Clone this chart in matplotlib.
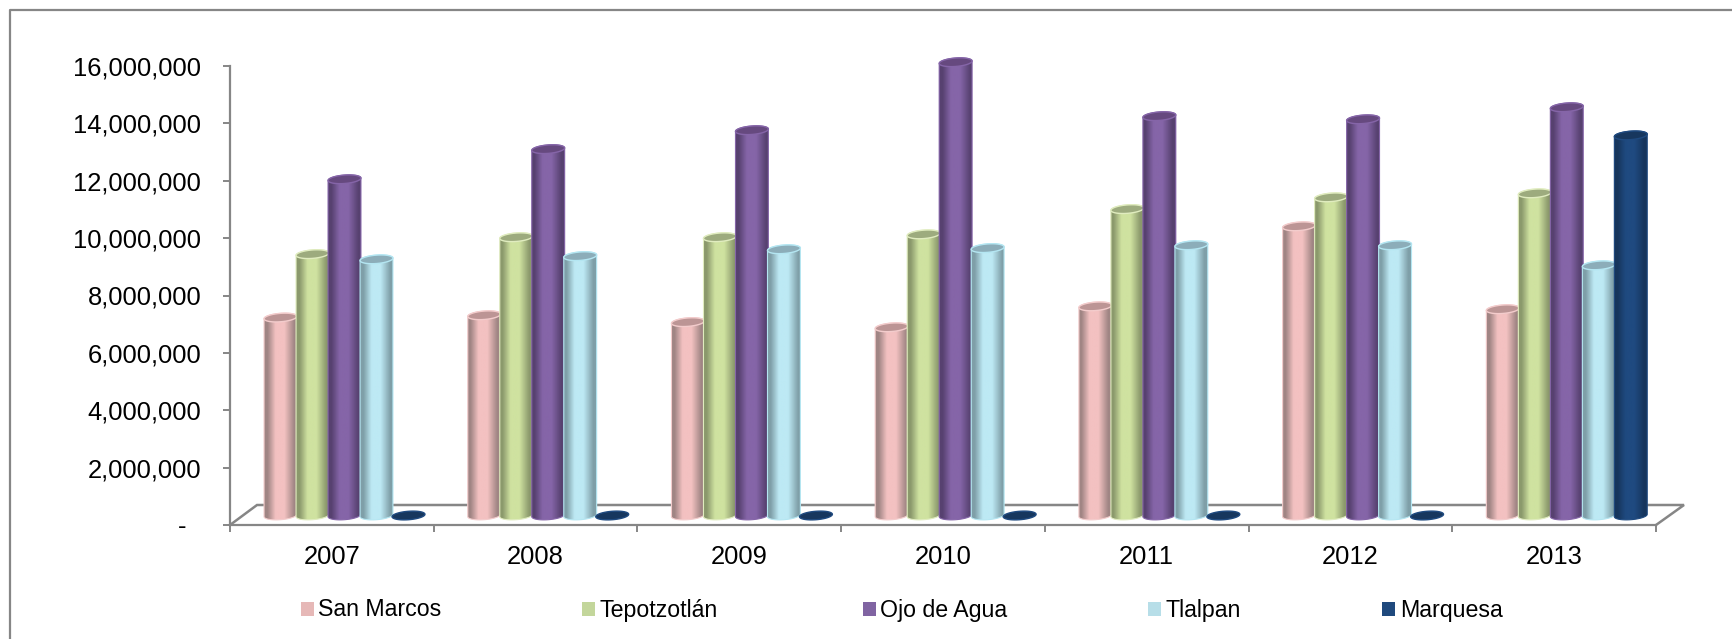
import numpy as np
import matplotlib
matplotlib.use('Agg')
import matplotlib.pyplot as plt
from matplotlib.colors import LinearSegmentedColormap
from matplotlib.lines import Line2D
from matplotlib.patches import Polygon, Rectangle
from matplotlib.transforms import ScaledTranslation

years = ['2007', '2008', '2009', '2010', '2011', '2012', '2013']
san_marcos = [6900000, 6980000, 6740000, 6560000, 7290000, 10080000, 7190000]
tepotzotlan = [9110000, 9700000, 9700000, 9800000, 10680000, 11090000, 11230000]
ojo_de_agua = [11720000, 12770000, 13430000, 15800000, 13920000, 13810000, 14230000]
tlalpan = [8930000, 9040000, 9280000, 9320000, 9420000, 9420000, 8720000]
marquesa = [0, 0, 0, 0, 0, 0, 13250000]
y_ticks = [0, 2000000, 4000000, 6000000, 8000000, 10000000, 12000000, 14000000, 16000000]
y_labels = ['-', '2,000,000', '4,000,000', '6,000,000', '8,000,000',
            '10,000,000', '12,000,000', '14,000,000', '16,000,000']
names = ['San Marcos', 'Tepotzotlán', 'Ojo de Agua', 'Tlalpan', 'Marquesa']
series = [san_marcos, tepotzotlan, ojo_de_agua, tlalpan, marquesa]

# (edge, middle, top face, rim)
colors = [('#a08584', '#f3c1c1', '#bc9595', '#f3cccc'),
          ('#8b996c', '#cfe2a0', '#9dab7e', '#e0ecbf'),
          ('#574170', '#8565a8', '#66497f', '#8565a8'),
          ('#7f9fa8', '#bde9f4', '#8cadb9', '#b4e6f2'),
          ('#16355c', '#1f4a80', '#17375e', '#1f4a80')]
legend_colors = ['#e6b8b7', '#c3d69b', '#8064a2', '#b7dee8', '#1f497d']
legend_x = [301, 582, 863, 1148, 1382]
legend_text_x = [318, 600, 880, 1166, 1400]

W, H = 1733, 639
grey = '#868686'
plt.rcParams['font.family'] = ['Liberation Sans', 'DejaVu Sans']

fig = plt.figure(figsize=(W / 100, H / 100), dpi=100)
ax = fig.add_axes([230 / W, (H - 525) / H, 1426 / W, 459 / H])
ax.patch.set_alpha(0)

px_x = 7 / 1426
px_y = 16000000 / 459
lift = 9.5 * px_y      # bars stand on the floor, a bit above the front axis
semi_a, semi_b = 16.5, 4.2
tilt = np.radians(4.5)
step = 32 * px_x
first = 50.5 * px_x


def ring(cx, cy, t):
    dx = semi_a * np.cos(t) * np.cos(tilt) - semi_b * np.sin(t) * np.sin(tilt)
    dy = semi_a * np.cos(t) * np.sin(tilt) + semi_b * np.sin(t) * np.cos(tilt)
    return np.column_stack([cx + dx * px_x, cy + dy * px_y])


def draw_bar(cx, value, cols, z):
    edge, mid, top, rim = cols
    y0 = lift
    y1 = lift + value
    face = LinearSegmentedColormap.from_list('f', [(0, edge), (0.12, edge), (0.35, mid),
                                                   (0.6, mid), (0.88, edge), (1, edge)])
    if value > 0:
        body = np.vstack([ring(cx, y0, np.linspace(np.pi, 2 * np.pi, 40)),
                          ring(cx, y1, np.linspace(0, np.pi, 40))])
        ax.bar(cx, value, bottom=y0, width=2 * semi_a * px_x, color=mid, zorder=z, clip_on=False)
        shape = Polygon(body, closed=True, transform=ax.transData, fc='none',
                        ec=rim, lw=0.8, zorder=z + 0.2, clip_on=False)
        ax.add_patch(shape)
        grad = np.linspace(0, 1, 64).reshape(1, -1)
        im = ax.imshow(grad, cmap=face, aspect='auto', zorder=z + 0.1,
                       extent=[cx - 18 * px_x, cx + 18 * px_x, y0 - 8 * px_y, y1 + 8 * px_y])
        im.set_clip_box(fig.bbox)
        im.set_clip_path(shape)
    cap = Polygon(ring(cx, y1, np.linspace(0, 2 * np.pi, 60)), closed=True, fc=top,
                  ec=rim, lw=1.0, zorder=z + 0.3, clip_on=False)
    ax.add_patch(cap)


for s, values in enumerate(series):
    for i, v in enumerate(values):
        draw_bar(i + first + s * step, v, colors[s], 3 + s)

ax.set_xlim(0, 7)
ax.set_ylim(0, 16000000)

# floor of the 3d box
floor_x = [0, 27 * px_x, 7 + 28 * px_x, 7]
floor_y = [0, 20 * px_y, 20 * px_y, 0]
ax.plot(floor_x, floor_y, color=grey, lw=1.8, zorder=1, clip_on=False, solid_joinstyle='miter')

for side in ['top', 'right']:
    ax.spines[side].set_visible(False)
for side in ['left', 'bottom']:
    ax.spines[side].set_color(grey)
    ax.spines[side].set_linewidth(1.6)

ax.set_yticks(y_ticks)
ax.set_yticklabels(y_labels, fontsize=18.4, color='black')
ax.tick_params(axis='y', length=5, width=1.4, color=grey, pad=15.7)
ax.set_xticks(range(8))
ax.set_xticklabels([])
ax.tick_params(axis='x', which='major', length=5, width=1.4, color=grey)
ax.set_xticks(np.arange(7) + 0.5, minor=True)
ax.set_xticklabels(years, minor=True, fontsize=18.4, color='black')
ax.tick_params(axis='x', which='minor', length=0, pad=14.7)

zero_label = ax.get_yticklabels()[0]
zero_label.set_transform(zero_label.get_transform() + ScaledTranslation(-0.15, 0, fig.dpi_scale_trans))

# legend
for name, col, lx, tx in zip(names, legend_colors, legend_x, legend_text_x):
    fig.add_artist(Rectangle((lx / W, (H - 615.5) / H), 13.5 / W, 13.5 / H, transform=fig.transFigure,
                             fc=col, ec='none'))
    fig.text(tx / W, (H - 610) / H, name, fontsize=16.7, color='black', va='center', ha='left')

# chart frame, open to the right and bottom
fig.add_artist(Line2D([10.5 / W, 10.5 / W, 1], [0, (H - 10) / H, (H - 10) / H],
                      transform=fig.transFigure, color=grey, lw=1.6))

fig.savefig('out.png', dpi=100)
